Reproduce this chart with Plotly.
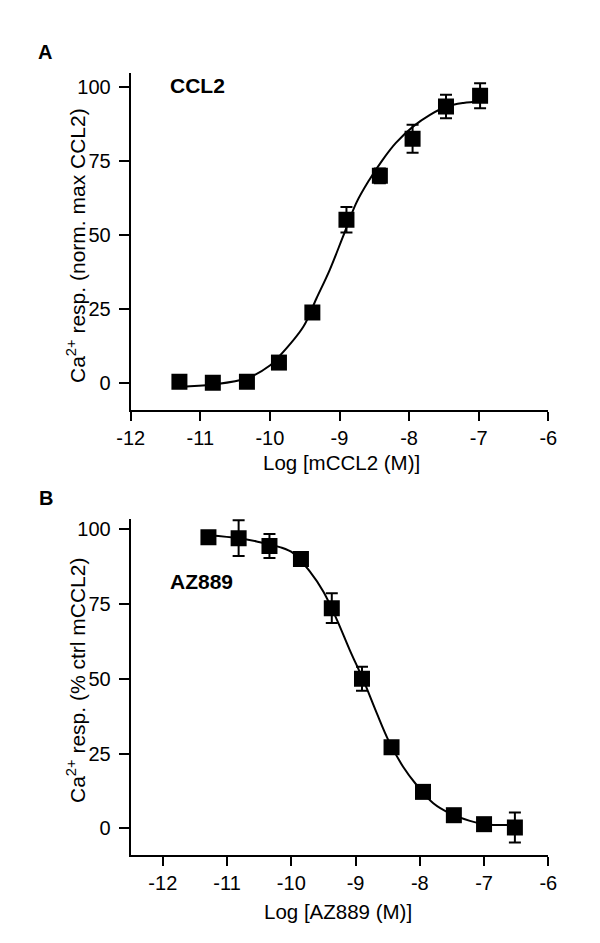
import plotly.graph_objects as go

# ---------------- data ----------------
# Panel A: CCL2 concentration-response
a_x = [-11.30, -10.82, -10.33, -9.87, -9.39, -8.90, -8.42, -7.95, -7.47, -6.98]
a_y = [0.5, 0.2, 0.5, 7.0, 23.9, 55.2, 70.0, 82.5, 93.4, 97.0]
a_err = [1.0, 1.0, 1.0, 1.5, 1.5, 4.3, 2.5, 4.7, 4.0, 4.2]
# fitted curve
a_fit_x = [-11.30, -10.82, -10.33, -10.00, -9.87, -9.52, -9.33, -9.14, -8.95,
           -8.76, -8.57, -8.38, -8.19, -7.94, -7.70, -7.46, -7.22, -6.98]
a_fit_y = [-1.2, -0.4, 1.7, 6.0, 9.0, 19.1, 28.7, 38.3, 49.5,
           60.8, 68.7, 75.4, 81.1, 86.7, 90.6, 93.4, 94.6, 95.1]

# Panel B: AZ889 inhibition
b_x = [-11.29, -10.82, -10.34, -9.85, -9.37, -8.90, -8.44, -7.95, -7.47, -7.00, -6.52]
b_y = [97.3, 97.0, 94.4, 90.0, 73.6, 50.0, 27.1, 12.2, 4.4, 1.4, 0.3]
b_err = [1.0, 6.0, 4.0, 2.0, 5.0, 4.0, 2.0, 2.0, 1.0, 1.0, 5.0]
b_fit_x = [-11.29, -10.82, -10.54, -10.18, -9.97, -9.71, -9.50, -9.29, -9.09,
           -8.88, -8.67, -8.49, -8.26, -8.05, -7.79, -7.53, -7.22, -7.00, -6.52]
b_fit_y = [98.0, 97.0, 95.9, 94.0, 92.0, 85.8, 79.1, 69.7, 59.6,
           49.6, 38.5, 29.5, 20.6, 14.5, 8.4, 5.0, 2.5, 1.4, 1.1]

x_ticks = [-12, -11, -10, -9, -8, -7, -6]
x_tick_labels = ["-12", "-11", "-10", "-9", "-8", "-7", "-6"]
y_ticks = [0, 25, 50, 75, 100]
y_tick_labels = ["0", "25", "50", "75", "100"]

FONT = "Arial, Liberation Sans, Helvetica, sans-serif"
W, H = 600, 943

fig = go.Figure()

# curves
fig.add_trace(go.Scatter(x=a_fit_x, y=a_fit_y, mode="lines", line=dict(color="black", width=2, shape="spline"),
                         xaxis="x", yaxis="y", showlegend=False, hoverinfo="skip"))
fig.add_trace(go.Scatter(x=b_fit_x, y=b_fit_y, mode="lines", line=dict(color="black", width=2, shape="spline"),
                         xaxis="x2", yaxis="y2", showlegend=False, hoverinfo="skip"))
# points with error bars
fig.add_trace(go.Scatter(x=a_x, y=a_y, mode="markers",
                         marker=dict(symbol="square", size=16, color="black"),
                         error_y=dict(type="data", array=a_err, visible=True, color="black", thickness=2, width=6),
                         xaxis="x", yaxis="y", showlegend=False))
fig.add_trace(go.Scatter(x=b_x, y=b_y, mode="markers",
                         marker=dict(symbol="square", size=16, color="black"),
                         error_y=dict(type="data", array=b_err, visible=True, color="black", thickness=2, width=6),
                         xaxis="x2", yaxis="y2", showlegend=False))

def px_x(p):
    return p / W

def px_y(p):
    return 1 - p / H

axis_common = dict(showline=True, linecolor="black", linewidth=2, ticks="outside",
                   tickwidth=2, tickcolor="black", showgrid=False, zeroline=False, automargin=False,
                   tickfont=dict(family=FONT, size=20, color="black"))
x_common = dict(tickvals=x_ticks, ticktext=x_tick_labels, ticklen=9, **axis_common)
y_common = dict(tickvals=y_ticks, ticktext=y_tick_labels, ticklen=10, ticklabelstandoff=4, **axis_common)

fig.update_layout(
    width=W, height=H, autosize=False,
    margin=dict(l=0, r=0, t=0, b=0, pad=0),
    paper_bgcolor="white", plot_bgcolor="white",
    font=dict(family=FONT, color="black"),
    xaxis=dict(domain=[px_x(130.7), px_x(548.3)], range=[-12, -6], anchor="y", **x_common),
    yaxis=dict(domain=[px_y(410), px_y(73)], range=[-9.0, 104.7], anchor="x", **y_common),
    xaxis2=dict(domain=[px_x(130.7), px_x(548.3)], range=[-12.5, -6], anchor="y2", **x_common),
    yaxis2=dict(domain=[px_y(855), px_y(519)], range=[-8.9, 103.4], anchor="x2", **y_common),
)

def note(text, x, y, size, xref="paper", yref="paper", xanchor="center", angle=0):
    return dict(text=text, x=x, y=y, xref=xref, yref=yref, xanchor=xanchor, yanchor="middle",
                textangle=angle, showarrow=False, font=dict(size=size, family=FONT, color="black"))

ann = [
    note("<b>A</b>", px_x(45), px_y(52), 20),
    note("<b>B</b>", px_x(45.5), px_y(498), 20),
    note("<b>CCL2</b>", -11.46, 100.4, 21, xref="x", yref="y", xanchor="left"),
    note("<b>AZ889</b>", -11.92, 82.5, 21, xref="x2", yref="y2", xanchor="left"),
    note("Log [mCCL2 (M)]", px_x(342), px_y(463), 20.5),
    note("Log [AZ889 (M)]", px_x(338), px_y(911), 20.5),
    note("Ca<sup>2+</sup> resp. (norm. max CCL2)", px_x(76), px_y(246), 21, angle=-90),
    note("Ca<sup>2+</sup> resp. (% ctrl mCCL2)", px_x(76), px_y(681), 21, angle=-90),
]
fig.update_layout(annotations=ann)

fig.write_html("out.html", config={"displayModeBar": False},
               post_script="document.body.style.margin='0px';")
